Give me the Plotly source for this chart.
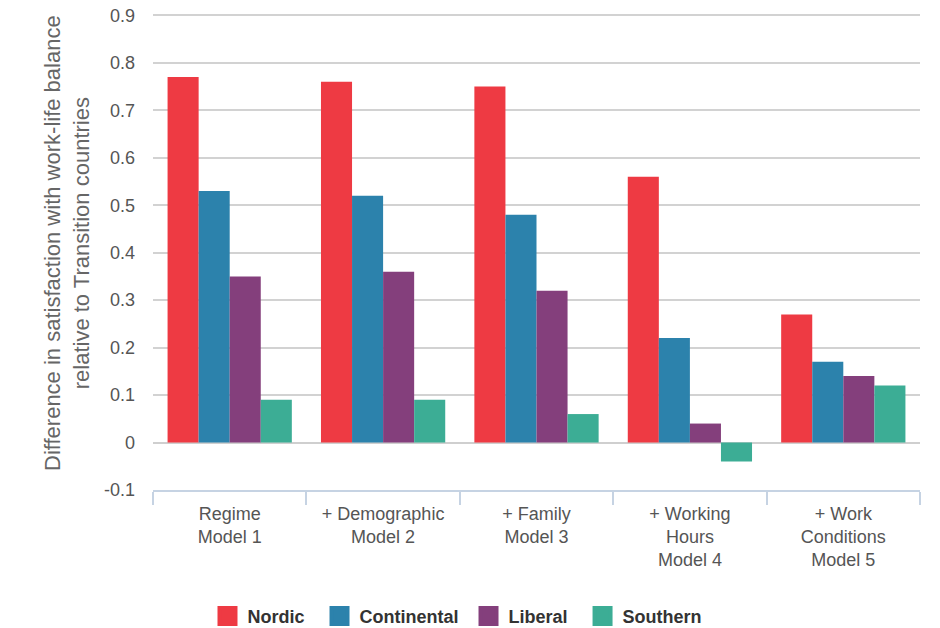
import plotly.graph_objects as go

MODELS = [
    "Regime<br>Model 1",
    "+ Demographic<br>Model 2",
    "+ Family<br>Model 3",
    "+ Working<br>Hours<br>Model 4",
    "+ Work<br>Conditions<br>Model 5",
]

NORDIC = [0.77, 0.76, 0.75, 0.56, 0.27]
CONTINENTAL = [0.53, 0.52, 0.48, 0.22, 0.17]
LIBERAL = [0.35, 0.36, 0.32, 0.04, 0.14]
SOUTHERN = [0.09, 0.09, 0.06, -0.04, 0.12]

Y_TICKS = [-0.1, 0, 0.1, 0.2, 0.3, 0.4, 0.5, 0.6, 0.7, 0.8, 0.9]
Y_TICK_TEXT = ["-0.1", "0", "0.1", "0.2", "0.3", "0.4", "0.5", "0.6", "0.7", "0.8", "0.9"]

Y_TITLE = "Difference in satisfaction with work-life balance<br>relative to Transition countries"

SERIES = {
    "Nordic": (NORDIC, "#ee3a43"),
    "Continental": (CONTINENTAL, "#2c82ac"),
    "Liberal": (LIBERAL, "#843f7c"),
    "Southern": (SOUTHERN, "#3cad95"),
}
# non-breaking spaces widen the gaps between legend entries
LEGEND_PAD = {"Nordic": 2, "Continental": 1, "Liberal": 2, "Southern": 0}

fig = go.Figure()

for name, (values, color) in SERIES.items():
    fig.add_trace(
        go.Bar(
            x=MODELS,
            y=values,
            name=name,
            marker={"color": color, "line": {"width": 0}},
            showlegend=False,
        )
    )

# legend entries with bigger squares than the default bar swatch
for name, (values, color) in SERIES.items():
    fig.add_trace(
        go.Scatter(
            x=[None],
            y=[None],
            mode="markers",
            name=name + "\u00a0" * LEGEND_PAD[name],
            marker={
                "symbol": "square",
                "size": 16,
                "color": color,
                "line": {"color": color, "width": 4},
            },
        )
    )

fig.update_layout(
    width=940,
    height=628,
    margin={"l": 153, "r": 20, "t": 13, "b": 138, "autoexpand": False},
    paper_bgcolor="white",
    plot_bgcolor="white",
    font={"family": "Arial, Liberation Sans, sans-serif", "color": "#555555"},
    barmode="group",
    bargap=0.19,
    bargroupgap=0,
    legend={
        "orientation": "h",
        "x": 0.397,
        "xanchor": "center",
        "y": -0.265,
        "yanchor": "middle",
        "font": {"size": 18, "color": "#333333", "weight": "bold"},
        "itemwidth": 30,
        "traceorder": "normal",
    },
    annotations=[
        {
            "text": Y_TITLE,
            "xref": "paper",
            "yref": "paper",
            "x": -0.112,
            "y": 0.518,
            "xanchor": "center",
            "yanchor": "middle",
            "textangle": -90,
            "showarrow": False,
            "font": {"size": 22, "color": "#666666"},
        }
    ],
)

fig.update_xaxes(
    type="category",
    automargin=False,
    showgrid=False,
    showline=True,
    linecolor="#c6d3e3",
    linewidth=2,
    ticks="outside",
    tickson="boundaries",
    ticklen=13,
    tickcolor="#c6d3e3",
    tickwidth=2,
    ticklabelstandoff=6,
    tickfont={"size": 18, "color": "#555555"},
)

fig.update_yaxes(
    automargin=False,
    range=[-0.1, 0.905],
    tickvals=Y_TICKS,
    ticktext=Y_TICK_TEXT,
    ticklabeloverflow="allow",
    showgrid=True,
    gridcolor="#d2d2d2",
    gridwidth=1.5,
    zeroline=True,
    zerolinecolor="#cfcfcf",
    zerolinewidth=2,
    showline=False,
    ticks="",
    ticklabelstandoff=17,
    tickfont={"size": 18, "color": "#555555"},
)

# drop the default 8px body margin so the figure fills the window exactly
fig.write_html(
    "out.html",
    config={"displayModeBar": False},
    post_script="document.body.style.margin = '0';",
)
